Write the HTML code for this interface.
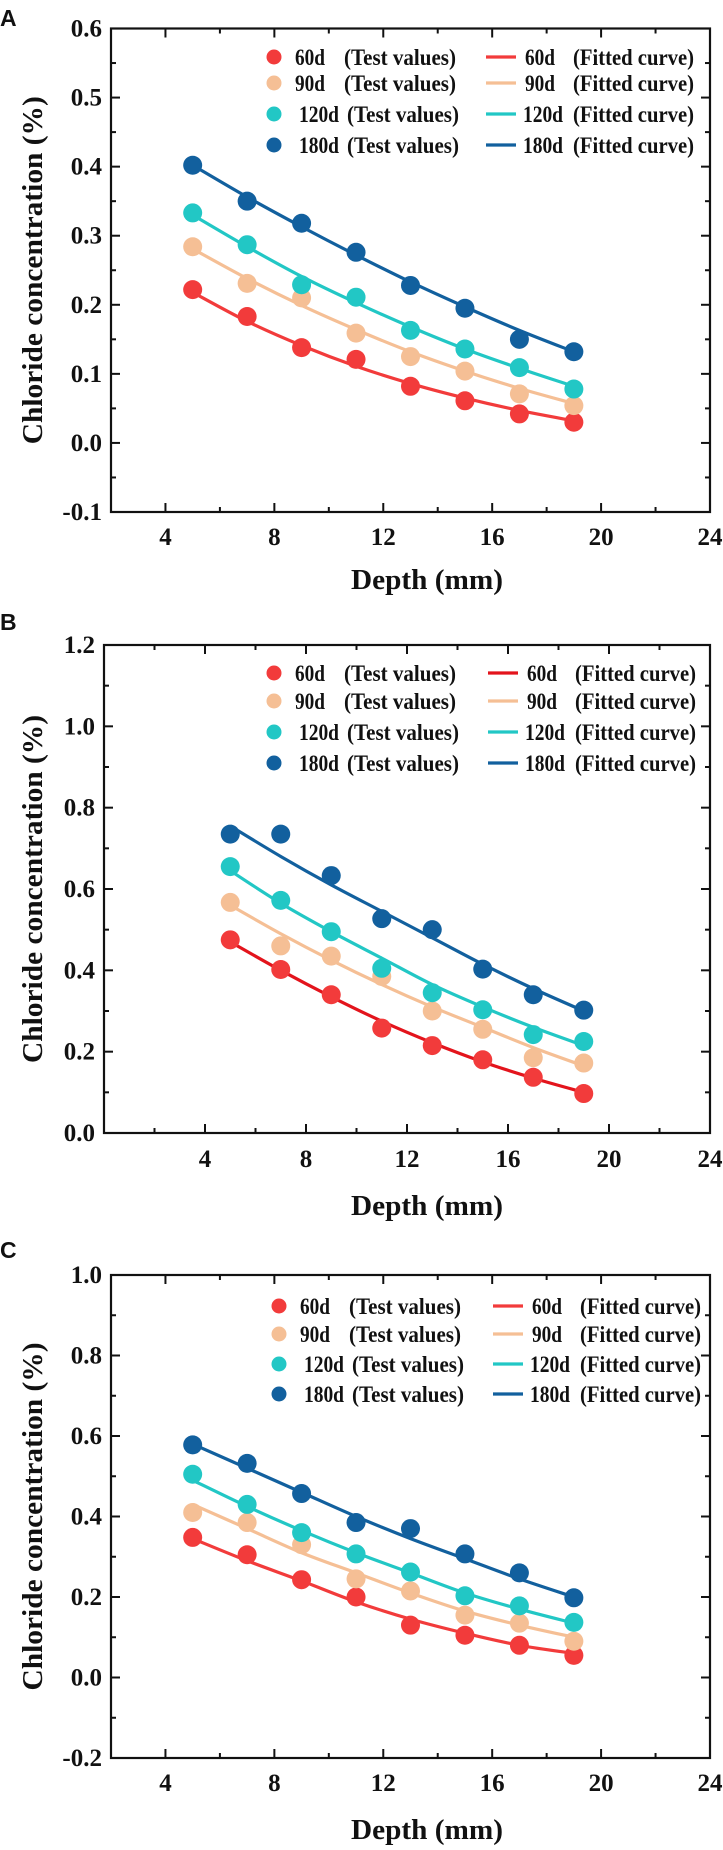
<!DOCTYPE html>
<html><head><meta charset="utf-8">
<style>
html,body{margin:0;padding:0;background:#fff;}
svg{display:block;}
text{font-family:"Liberation Serif",serif;font-weight:bold;fill:#111;}
.lbl{font-family:"Liberation Sans",sans-serif;font-weight:bold;}
</style></head>
<body>
<svg id="fig" width="723" height="1850" viewBox="0 0 723 1850" xmlns="http://www.w3.org/2000/svg"></svg>
<script>
const depths = [5,7,9,11,13,15,17,19];
const seriesNames = ["60d","90d","120d","180d"];
// Panel A
const aTest60 = [0.222,0.183,0.138,0.121,0.082,0.061,0.042,0.030];
const aTest90 = [0.284,0.231,0.210,0.159,0.125,0.104,0.071,0.054];
const aTest120 = [0.333,0.287,0.229,0.211,0.163,0.136,0.109,0.078];
const aTest180 = [0.402,0.350,0.318,0.276,0.228,0.195,0.150,0.132];
const aFit60 = [0.218,0.176,0.141,0.111,0.086,0.065,0.047,0.032];
const aFit90 = [0.281,0.238,0.199,0.164,0.132,0.104,0.079,0.057];
const aFit120 = [0.330,0.284,0.241,0.203,0.168,0.136,0.108,0.082];
const aFit180 = [0.402,0.356,0.313,0.272,0.233,0.197,0.163,0.132];
// Panel B
const bTest60 = [0.475,0.402,0.340,0.258,0.215,0.180,0.137,0.097];
const bTest90 = [0.567,0.460,0.435,0.385,0.300,0.255,0.185,0.172];
const bTest120 = [0.655,0.572,0.495,0.405,0.345,0.303,0.242,0.225];
const bTest180 = [0.735,0.735,0.633,0.527,0.500,0.403,0.340,0.302];
const bFit60 = [0.470,0.400,0.335,0.275,0.222,0.175,0.135,0.100];
const bFit90 = [0.560,0.490,0.425,0.365,0.310,0.260,0.210,0.165];
const bFit120 = [0.645,0.565,0.495,0.430,0.365,0.310,0.260,0.215];
const bFit180 = [0.755,0.680,0.610,0.545,0.480,0.415,0.355,0.300];
// Panel C
const cTest60 = [0.348,0.305,0.243,0.200,0.130,0.105,0.080,0.055];
const cTest90 = [0.410,0.385,0.330,0.245,0.215,0.155,0.135,0.090];
const cTest120 = [0.505,0.430,0.360,0.307,0.262,0.203,0.178,0.137];
const cTest180 = [0.578,0.532,0.457,0.385,0.370,0.307,0.260,0.198];
const cFit60 = [0.345,0.290,0.240,0.188,0.145,0.110,0.080,0.060];
const cFit90 = [0.430,0.370,0.310,0.260,0.210,0.165,0.130,0.100];
const cFit120 = [0.490,0.425,0.365,0.310,0.260,0.210,0.170,0.135];
const cFit180 = [0.580,0.520,0.460,0.400,0.345,0.295,0.245,0.200];
const xTickLabels = ["4","8","12","16","20","24"];
const aYTickLabels = ["-0.1","0.0","0.1","0.2","0.3","0.4","0.5","0.6"];
const bYTickLabels = ["0.0","0.2","0.4","0.6","0.8","1.0","1.2"];
const cYTickLabels = ["-0.2","0.0","0.2","0.4","0.6","0.8","1.0"];

const NS="http://www.w3.org/2000/svg";
const svg=document.getElementById('fig');
function mk(tag,attrs,parent){const e=document.createElementNS(NS,tag);for(const k in attrs)e.setAttribute(k,attrs[k]);(parent||svg).appendChild(e);return e;}

const colors=["#f23b3b","#f5bf95","#22c7c5","#12609e"];

function panel(cfg){
  const g=mk('g',{});
  
  
  const {L,R,T,B,xmin,xmax,ymin,ymax}=cfg;
  const sx=v=>L+(v-xmin)/(xmax-xmin)*(R-L);
  const sy=v=>B-(v-ymin)/(ymax-ymin)*(B-T);
  const pl=mk('text',{x:0,y:cfg.labelY,'font-size':23,class:'lbl'},g);pl.textContent=cfg.id;
  
  
  const tk=mk('g',{stroke:'#111','stroke-width':2},g);
  for(let v=Math.ceil(xmin/2)*2;v<=xmax;v+=2){
    const major=v%4===0, len=major?9:5, x=sx(v);
    mk('line',{x1:x,x2:x,y1:B,y2:B-len},tk);mk('line',{x1:x,x2:x,y1:T,y2:T+len},tk);
  }
  const yl=cfg.yLabels.map(Number);const ystep=yl[1]-yl[0];
  for(let i=0;i<=(ymax-ymin)/(ystep/2)+0.01;i++){
    const v=ymin+i*ystep/2, major=i%2===0, len=major?9:5, y=sy(v);
    mk('line',{x1:L,x2:L+len,y1:y,y2:y},tk);mk('line',{x1:R,x2:R-len,y1:y,y2:y},tk);
  }
  xTickLabels.forEach(s=>{const t=mk('text',{x:sx(+s),y:cfg.xTickY,'font-size':25,'text-anchor':'middle'},g);t.textContent=s;
    });
  cfg.yLabels.forEach(s=>{const t=mk('text',{x:L-9,y:sy(+s)+8,'font-size':25,'text-anchor':'end'},g);t.textContent=s;
    });
  const yt=mk('text',{x:0,y:0,'font-size':29,'text-anchor':'middle',transform:`translate(42,${(T+B)/2}) rotate(-90)`,textLength:348,lengthAdjust:'spacingAndGlyphs'},g);
  yt.textContent='Chloride concentration (%)';
  
  const xt=mk('text',{x:427,y:cfg.xTitleY,'font-size':29,'text-anchor':'middle',textLength:152,lengthAdjust:'spacingAndGlyphs'},g);
  xt.textContent='Depth (mm)';
  
  cfg.fits.forEach((arr,si)=>{
    const p=depths.map((d,i)=>[sx(d),sy(arr[i])]);
    let d=`M${p[0][0]},${p[0][1]}`;
    for(let i=0;i<p.length-1;i++){
      const p0=p[Math.max(i-1,0)],p1=p[i],p2=p[i+1],p3=p[Math.min(i+2,p.length-1)];
      d+=` C${p1[0]+(p2[0]-p0[0])/6},${p1[1]+(p2[1]-p0[1])/6} ${p2[0]-(p3[0]-p1[0])/6},${p2[1]-(p3[1]-p1[1])/6} ${p2[0]},${p2[1]}`;
    }
    const c=mk('path',{d,fill:'none',stroke:cfg.lineColors[si],'stroke-width':3.2},g);
    
    
  });
  cfg.tests.forEach((arr,si)=>{
    arr.forEach((v,i)=>{
      const c=mk('circle',{cx:sx(depths[i]),cy:sy(v),r:9.5,fill:colors[si]},g);
      
      
    });
  });
  mk('rect',{x:L,y:T,width:R-L,height:B-T,fill:'none',stroke:'#111','stroke-width':2.2},g);
  cfg.legY.forEach((y,si)=>{
    const lg=mk('g',{},g);
    
    
    const lx=cfg.legX;
    mk('circle',{cx:lx,cy:y,r:7.5,fill:colors[si]},lg);
    const wide=si>=2, nw=wide?40:30;
    let t=mk('text',{x:lx+(wide?25:21),y:y+8,'font-size':23,textLength:nw,lengthAdjust:'spacingAndGlyphs'},lg);t.textContent=seriesNames[si];
    t=mk('text',{x:lx+(wide?73:70),y:y+8,'font-size':23,textLength:112,lengthAdjust:'spacingAndGlyphs'},lg);t.textContent='(Test values)';
    const fx=cfg.legLX;
    mk('line',{x1:fx,x2:fx+30,y1:y,y2:y,stroke:cfg.lineColors[si],'stroke-width':3.2},lg);
    t=mk('text',{x:fx+(wide?37:39),y:y+8,'font-size':23,textLength:nw,lengthAdjust:'spacingAndGlyphs'},lg);t.textContent=seriesNames[si];
    t=mk('text',{x:fx+87,y:y+8,'font-size':23,textLength:121,lengthAdjust:'spacingAndGlyphs'},lg);t.textContent='(Fitted curve)';
  });
}

panel({id:'A',L:111,R:710,T:28.5,B:512,xmin:2,xmax:24,ymin:-0.1,ymax:0.6,yLabels:aYTickLabels,
  xTickY:545,xTitleY:589,labelY:26,legY:[57,83,114,145],legX:274,legLX:486,
  tests:[aTest60,aTest90,aTest120,aTest180],fits:[aFit60,aFit90,aFit120,aFit180],lineColors:colors});
panel({id:'B',L:104,R:710,T:645,B:1133,xmin:0,xmax:24,ymin:0,ymax:1.2,yLabels:bYTickLabels,
  xTickY:1167,xTitleY:1215,labelY:630,legY:[673,701,732,763],legX:274,legLX:488,
  tests:[bTest60,bTest90,bTest120,bTest180],fits:[bFit60,bFit90,bFit120,bFit180],lineColors:["#e3141c",colors[1],colors[2],colors[3]]});
panel({id:'C',L:111,R:710,T:1275,B:1758,xmin:2,xmax:24,ymin:-0.2,ymax:1.0,yLabels:cYTickLabels,
  xTickY:1791,xTitleY:1839,labelY:1258,legY:[1306,1334,1364,1394],legX:279,legLX:493,
  tests:[cTest60,cTest90,cTest120,cTest180],fits:[cFit60,cFit90,cFit120,cFit180],lineColors:colors});
</script>
</body></html>
